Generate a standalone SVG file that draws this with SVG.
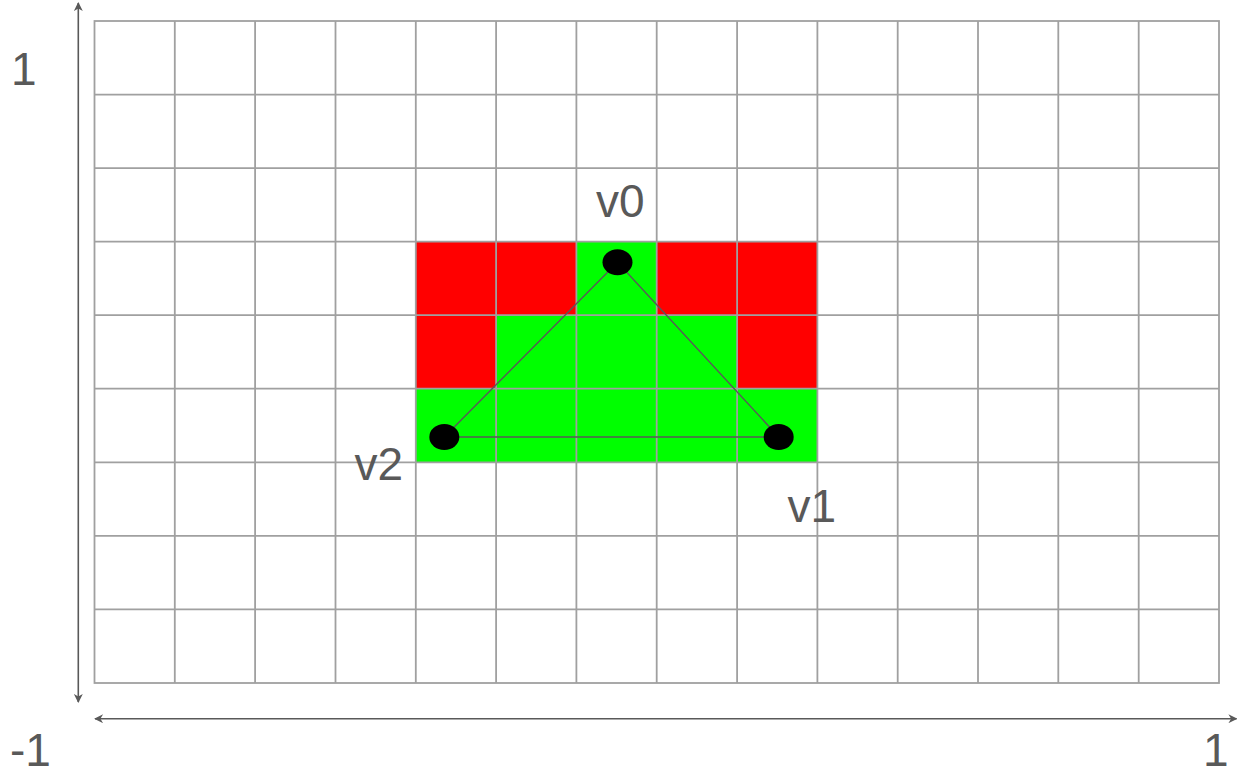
<svg xmlns="http://www.w3.org/2000/svg" width="1237" height="770" viewBox="0 0 1237 770">
<style>
.grid{stroke:#a0a0a0;stroke-width:1.8;fill:none}
.red{fill:#ff0000}
.green{fill:#00ff00}
.axis{stroke:#595959;stroke-width:1.6;fill:none}
.edge{stroke:#595959;stroke-width:1.4;fill:none}
.vtx{fill:#000000}
.lbl{font-family:"Liberation Sans",Arial,sans-serif;font-size:46px;fill:#595959}
</style>
<defs>
<marker id="ah" viewBox="0 0 10 10" refX="9" refY="5" markerWidth="10" markerHeight="9" orient="auto-start-reverse" markerUnits="userSpaceOnUse">
<path d="M0,0 L10,5 L0,10 L3,5 Z" fill="#595959"/>
</marker>
</defs>
<rect width="1237" height="770" fill="#ffffff"/>
<g id="cells">
<rect class="red" x="415.8" y="241.6" width="80.3" height="73.6"/>
<rect class="red" x="496.1" y="241.6" width="80.3" height="73.6"/>
<rect class="green" x="576.4" y="241.6" width="80.3" height="73.6"/>
<rect class="red" x="656.7" y="241.6" width="80.4" height="73.6"/>
<rect class="red" x="737.1" y="241.6" width="80.3" height="73.6"/>
<rect class="red" x="415.8" y="315.2" width="80.3" height="73.5"/>
<rect class="green" x="496.1" y="315.2" width="241" height="73.5"/>
<rect class="red" x="737.1" y="315.2" width="80.3" height="73.5"/>
<rect class="green" x="415.8" y="388.7" width="401.6" height="73.6"/>
</g>
<g id="grid" class="grid">
<rect x="94.5" y="21" width="1124.5" height="662"/>
<path d="M174.8,21V683M255.1,21V683M335.5,21V683M415.8,21V683M496.1,21V683M576.4,21V683M656.7,21V683M737.1,21V683M817.4,21V683M897.7,21V683M978,21V683M1058.3,21V683M1138.7,21V683"/>
<path d="M94.5,94.6H1219M94.5,168.1H1219M94.5,241.6H1219M94.5,315.2H1219M94.5,388.7H1219M94.5,462.3H1219M94.5,535.8H1219M94.5,609.4H1219"/>
</g>
<g id="connectors">
<line class="axis" x1="78.3" y1="3" x2="78.3" y2="702" marker-start="url(#ah)" marker-end="url(#ah)"/>
<line class="axis" x1="95" y1="718.7" x2="1236.5" y2="718.7" marker-start="url(#ah)" marker-end="url(#ah)"/>
<line class="edge" x1="617.5" y1="262.3" x2="444.3" y2="437"/>
<line class="edge" x1="617.5" y1="262.3" x2="778.7" y2="437"/>
<line class="edge" x1="444.3" y1="437" x2="778.7" y2="437"/>
</g>
<g id="v0"><ellipse class="vtx" cx="617.5" cy="262.3" rx="15" ry="13"/><text class="lbl" x="596" y="216.5">v0</text></g>
<g id="v1"><ellipse class="vtx" cx="778.7" cy="437" rx="15" ry="13"/><text class="lbl" x="787.5" y="522">v1</text></g>
<g id="v2"><ellipse class="vtx" cx="444.3" cy="437" rx="15" ry="13"/><text class="lbl" x="354.5" y="480">v2</text></g>
<g id="labels">
<text class="lbl" x="11" y="85">1</text>
<text class="lbl" x="10" y="766">-1</text>
<text class="lbl" x="1203" y="766">1</text>
</g>
</svg>
